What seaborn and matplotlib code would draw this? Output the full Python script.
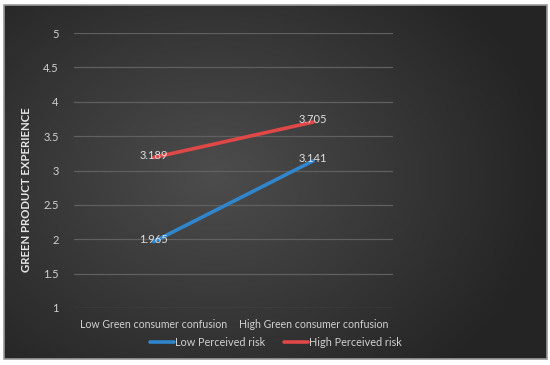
import numpy as np
import pandas as pd
import matplotlib
matplotlib.use("Agg")
import matplotlib.pyplot as plt
import seaborn as sns
from matplotlib.patches import Rectangle
from matplotlib.lines import Line2D

# ---- data ----
categories = ["Low Green consumer confusion", "High Green consumer confusion"]
series_names = ["Low Perceived risk", "High Perceived risk"]
low_risk = [1.965, 3.141]
high_risk = [3.189, 3.705]
y_ticks = [1, 1.5, 2, 2.5, 3, 3.5, 4, 4.5, 5]
y_tick_labels = ["1", "1.5", "2", "2.5", "3", "3.5", "4", "4.5", "5"]
y_label = "GREEN PRODUCT EXPERIENCE"

colors = {"Low Perceived risk": "#2f86cc", "High Perceived risk": "#e04848"}

df = pd.DataFrame({
    "category": categories * 2,
    "series": [series_names[0]] * 2 + [series_names[1]] * 2,
    "value": low_risk + high_risk,
})

sns.set_theme(style="white")
plt.rcParams["font.family"] = ["Lato", "DejaVu Sans"]

W, H = 550, 365
fig = plt.figure(figsize=(W / 100, H / 100), dpi=100)
fig.patch.set_facecolor("white")

# background panel with radial gradient
bg = fig.add_axes([0, 0, 1, 1], zorder=-10)
bg.set_xlim(0, W)
bg.set_ylim(H, 0)
bg.axis("off")
x0, x1, y0, y1 = 4, 547, 5, 359
xx, yy = np.meshgrid(np.linspace(x0, x1, 300), np.linspace(y0, y1, 200))
cx, cy = 215, 175
r = np.sqrt(((xx - cx) / 330) ** 2 + ((yy - cy) / 260) ** 2)
r = np.clip(r, 0, 1)
shade = 0.30 - 0.155 * r
img = np.dstack([shade, shade, shade])
bg.imshow(img, extent=[x0, x1, y1, y0], aspect="auto", interpolation="bilinear")
bg.add_patch(Rectangle((x0, y0), x1 - x0, y1 - y0, fill=False, edgecolor="#9a9a9a", lw=1.2))

# main plot area
left, right, top, bottom = 74, 393, 33, 308
ax = fig.add_axes([left / W, 1 - bottom / H, (right - left) / W, (bottom - top) / H])
ax.set_facecolor("none")

sns.lineplot(data=df, x="category", y="value", hue="series", palette=colors,
             hue_order=series_names, ax=ax, linewidth=2.6, legend=False, sort=False)

ax.set_xlim(-0.5, 1.5)
ax.set_ylim(1, 5)
ax.set_yticks(y_ticks)
ax.set_yticklabels(y_tick_labels)
for t in y_ticks:
    ax.axhline(t, color="#606060", lw=0.9, zorder=0)
for s in ax.spines.values():
    s.set_visible(False)
ax.tick_params(axis="y", length=0, pad=11, labelsize=8.0, labelcolor="#d0d0d0")
ax.tick_params(axis="x", length=0, pad=8, labelsize=7.6, labelcolor="#d0d0d0")
ax.set_xlabel("")
ax.set_ylabel("")

# data labels
for vals in (low_risk, high_risk):
    for i, v in enumerate(vals):
        ax.text(i, v + 0.03, f"{v:.3f}", ha="center", va="center", fontsize=8.0,
                color="#e0e0e0", zorder=5)

fig.text(27 / W, 1 - 190 / H, y_label, rotation=90, ha="center", va="center",
         fontsize=8.2, fontweight="bold", color="#e6e6e6")

handles = [Line2D([], [], color=colors[n], lw=2.6) for n in series_names]
leg = fig.legend(handles, series_names, loc="center", bbox_to_anchor=(276 / W, 1 - 342 / H),
                 ncol=2, frameon=False, fontsize=7.8, handlelength=2.2, handletextpad=0.1,
                 columnspacing=1.8, labelcolor="#d0d0d0")

fig.savefig("out.png", dpi=100, facecolor="white")
